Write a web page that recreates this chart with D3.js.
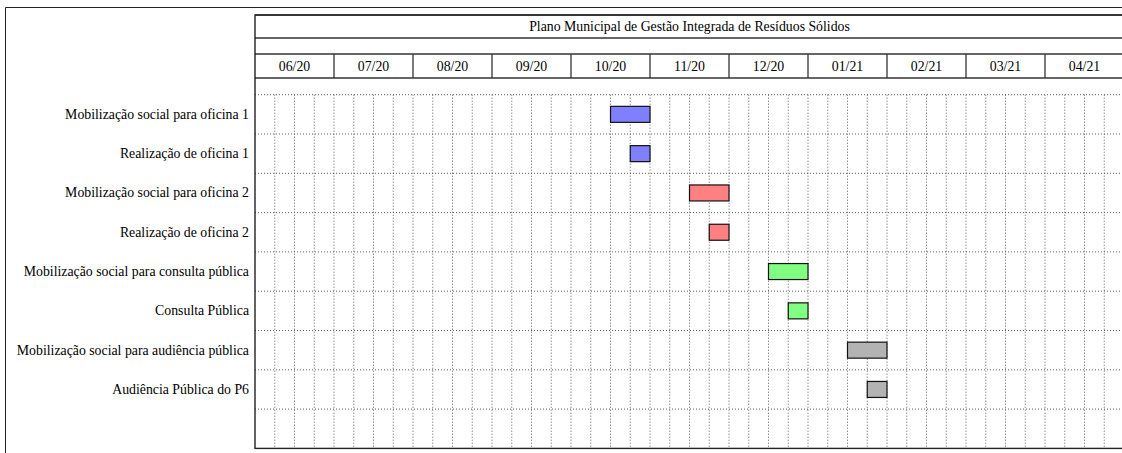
<!DOCTYPE html>
<html>
<head>
<meta charset="utf-8">
<script src="https://cdn.jsdelivr.net/npm/d3@7"></script>
<style>
  html, body { margin: 0; padding: 0; background: #fff; }
  svg { display: block; }
  text { font-family: "Liberation Serif", "Times New Roman", serif; fill: #000; }
</style>
</head>
<body>
<svg id="chart" width="1122" height="453"></svg>
<script>
// Schedule content
const title = "Plano Municipal de Gestão Integrada de Resíduos Sólidos";
const months = ["06/20", "07/20", "08/20", "09/20", "10/20", "11/20", "12/20", "01/21", "02/21", "03/21", "04/21"];
const weeksPerMonth = 4;
const tasks = [
  "Mobilização social para oficina 1",
  "Realização de oficina 1",
  "Mobilização social para oficina 2",
  "Realização de oficina 2",
  "Mobilização social para consulta pública",
  "Consulta Pública",
  "Mobilização social para audiência pública",
  "Audiência Pública do P6"
];
// start / end in weeks counted from the first week of 06/20
const startWeek = [18, 19, 22, 23, 26, 27, 30, 31];
const endWeek   = [20, 20, 24, 24, 28, 28, 32, 32];
const barColor  = ["#8080ff", "#8080ff", "#ff8080", "#ff8080", "#80ff80", "#80ff80", "#b3b3b3", "#b3b3b3"];

const svg = d3.select("#chart");

// Layout
const boxLeft = 255, boxRight = 1124;
const boxTop = 15, titleBottom = 38, blankBottom = 54, monthBottom = 78;
const gridTop = 94.7, rowH = 39.3;
const nRows = tasks.length + 1;
const boxBottom = gridTop + nRows * rowH;
const fontSize = 13.8;

const totalWeeks = months.length * weeksPerMonth;
const x = d3.scaleLinear().domain([0, totalWeeks]).range([boxLeft, boxRight]);
const xm = d3.scaleBand().domain(months).range([boxLeft, boxRight]);
const y = d3.scaleBand().domain(d3.range(nRows)).range([gridTop, boxBottom]);

// Outer frame
svg.append("path")
  .attr("d", `M5.5,460 V7.5 H1130`)
  .attr("fill", "none").attr("stroke", "#222").attr("stroke-width", 1);

// Dotted grid: week columns
const grid = svg.append("g");
grid.selectAll("line.v")
  .data(d3.range(1, totalWeeks))
  .join("line")
  .attr("x1", d => x(d)).attr("x2", d => x(d))
  .attr("y1", gridTop).attr("y2", boxBottom)
  .attr("stroke", "#4a4a4a").attr("stroke-width", 0.9)
  .attr("stroke-dasharray", "1,2");

// Dotted grid: row separators
grid.selectAll("line.h")
  .data(d3.range(0, nRows))
  .join("line")
  .attr("x1", boxLeft).attr("x2", boxRight)
  .attr("y1", d => y(d)).attr("y2", d => y(d))
  .attr("stroke", "#4a4a4a").attr("stroke-width", 0.9)
  .attr("stroke-dasharray", "1,2");

// Header
const head = svg.append("g");
head.append("text")
  .attr("x", (boxLeft + boxRight) / 2).attr("y", (boxTop + titleBottom) / 2)
  .attr("text-anchor", "middle").attr("dominant-baseline", "central")
  .attr("font-size", fontSize).text(title);

head.selectAll("text.m")
  .data(months)
  .join("text")
  .attr("x", d => xm(d) + xm.bandwidth() / 2)
  .attr("y", (blankBottom + monthBottom) / 2)
  .attr("text-anchor", "middle").attr("dominant-baseline", "central")
  .attr("font-size", fontSize).text(d => d);

head.selectAll("line.ms")
  .data(months.slice(1))
  .join("line")
  .attr("x1", d => xm(d)).attr("x2", d => xm(d))
  .attr("y1", blankBottom).attr("y2", monthBottom)
  .attr("stroke", "#222").attr("stroke-width", 1.2);

[boxTop, titleBottom, blankBottom, monthBottom].forEach(yy => {
  head.append("line")
    .attr("x1", boxLeft).attr("x2", boxRight)
    .attr("y1", yy).attr("y2", yy)
    .attr("stroke", "#333").attr("stroke-width", 1.3);
});

// Chart border
svg.append("rect")
  .attr("x", boxLeft).attr("y", boxTop)
  .attr("width", boxRight - boxLeft).attr("height", boxBottom - boxTop)
  .attr("fill", "none").attr("stroke", "#222").attr("stroke-width", 1.4);

// Task labels
svg.selectAll("text.task")
  .data(tasks)
  .join("text")
  .attr("x", 249)
  .attr("y", (d, i) => y(i) + y.bandwidth() / 2)
  .attr("text-anchor", "end").attr("dominant-baseline", "central")
  .attr("font-size", fontSize).text(d => d);

// Bars
const barH = 16;
svg.selectAll("rect.bar")
  .data(tasks)
  .join("rect")
  .attr("x", (d, i) => x(startWeek[i]))
  .attr("width", (d, i) => x(endWeek[i]) - x(startWeek[i]))
  .attr("y", (d, i) => y(i) + (y.bandwidth() - barH) / 2)
  .attr("height", barH)
  .attr("fill", (d, i) => barColor[i])
  .attr("stroke", "#111").attr("stroke-width", 1.2);
</script>
</body>
</html>
